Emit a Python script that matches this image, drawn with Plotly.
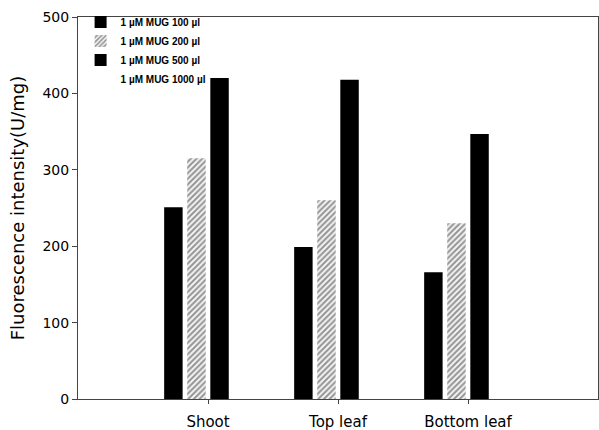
import plotly.graph_objects as go

categories = ["Shoot", "Top leaf", "Bottom leaf"]
series_names = ["1 \u00b5M MUG 100 \u00b5l", "1 \u00b5M MUG 200 \u00b5l",
                "1 \u00b5M MUG 500 \u00b5l", "1 \u00b5M MUG 1000 \u00b5l"]
mug_100 = [251, 199, 166]
mug_200 = [315, 260, 230]
mug_500 = [420, 418, 347]
mug_1000 = [0, 0, 0]
y_ticks = [0, 100, 200, 300, 400, 500]

x_pos = [1, 2, 3]

fig = go.Figure()
fig.add_trace(go.Bar(x=x_pos, y=mug_100, name=series_names[0],
                     marker=dict(color="black", line=dict(width=0))))
fig.add_trace(go.Bar(x=x_pos, y=mug_200, name=series_names[1],
                     marker=dict(color="white", line=dict(width=0),
                                 pattern=dict(shape="/", fgcolor="#333", bgcolor="#f4f4f4",
                                              size=4, solidity=0.5))))
fig.add_trace(go.Bar(x=x_pos, y=mug_500, name=series_names[2],
                     marker=dict(color="black", line=dict(width=0))))
fig.add_trace(go.Bar(x=x_pos, y=mug_1000, name=series_names[3],
                     marker=dict(color="white", line=dict(width=0))))

fig.update_layout(
    width=599, height=430,
    margin=dict(l=78, r=1, t=17, b=31),
    paper_bgcolor="white", plot_bgcolor="white",
    barmode="group", bargap=0.29, bargroupgap=0.2,
    font=dict(family="DejaVu Sans, sans-serif", color="black"),
    showlegend=True,
    legend=dict(x=0.005, y=1.025, xanchor="left", yanchor="top",
                bgcolor="rgba(0,0,0,0)", borderwidth=0,
                font=dict(size=10, weight="bold", family="Liberation Sans, Arial, sans-serif"),
                tracegroupgap=0, itemwidth=30),
    xaxis=dict(range=[0, 4], tickmode="array", tickvals=x_pos, ticktext=categories,
               showline=True, linecolor="#444", linewidth=1, mirror=True,
               ticks="outside", ticklen=4, tickcolor="#444",
               showgrid=False, zeroline=False, ticklabelstandoff=5, automargin=False,
               tickfont=dict(size=15)),
    yaxis=dict(range=[0, 500], tickmode="array", tickvals=y_ticks,
               showline=True, linecolor="#444", linewidth=1, mirror=True,
               ticks="outside", ticklen=5, tickcolor="#444",
               showgrid=False, zeroline=False, automargin=False,
               tickfont=dict(size=14),
               title=dict(text="Fluorescence intensity(U/mg)", font=dict(size=18), standoff=13)),
)

fig.write_html("out.html", config={"displayModeBar": False},
               post_script="document.body.style.margin='0';document.body.style.padding='0';")
